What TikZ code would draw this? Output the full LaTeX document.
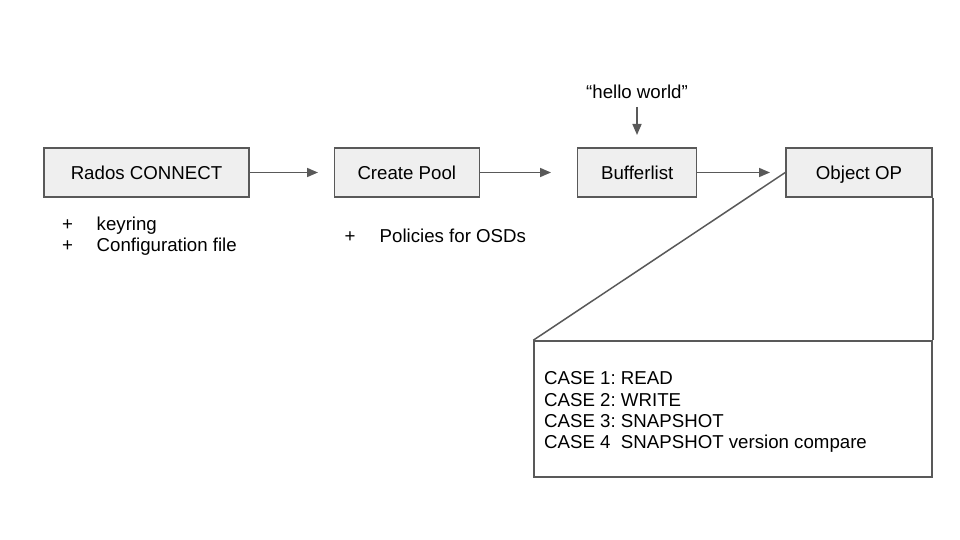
\documentclass[tikz,border=0pt]{standalone}
\usepackage{fontspec}
\setmainfont{Liberation Sans}
\usetikzlibrary{arrows.meta}
\definecolor{boxfill}{HTML}{EFEFEF}
\definecolor{edge}{HTML}{595959}
\begin{document}
\frenchspacing
\begin{tikzpicture}[x=1pt,y=-1pt,
  every node/.style={font=\fontsize{18.67}{21.33}\selectfont, text=black},
  stepbox/.style={draw=edge, line width=1.5pt, fill=boxfill, minimum height=49pt,
    text height=13.4pt, text depth=0pt, inner sep=0pt},
  conn/.style={draw=edge, line width=1.6pt, -{Triangle[length=11pt,width=9pt]}},
  plain/.style={draw=edge, line width=1.5pt},
  txt/.style={anchor=base west, inner sep=0pt}]
\useasboundingbox (0,0) rectangle (960,540);
\node[stepbox, minimum width=205pt] (rc) at (146.5,172.5) {Rados CONNECT};
\node[stepbox, minimum width=145pt] (cp) at (406.8,172.5) {Create Pool};
\node[stepbox, minimum width=119pt] (bl) at (637.2,172.5) {Bufferlist};
\node[stepbox, minimum width=146pt] (op) at (859,172.5) {Object OP};
\node[anchor=base, inner sep=0pt] (hw) at (637,99) {“hello world”};
\coordinate (hwstart) at (637,107);
\coordinate (hwend) at (637,135);
\coordinate (rcend) at (318,172.5);
\coordinate (cpend) at (551,172.5);
\coordinate (blend) at (770,172.5);
\draw[conn] (hwstart) -- (hwend);
\draw[conn] (rc.east) -- (rcend);
\draw[conn] (cp.east) -- (cpend);
\draw[conn] (bl.east) -- (blend);
\node[txt] (p1) at (62,230) {+};
\node[txt] (t1) at (96.5,230) {keyring};
\node[txt] (p2) at (62,251) {+};
\node[txt] (t2) at (96.5,251) {Configuration file};
\node[txt] (p3) at (344.5,242) {+};
\node[txt] (t3) at (379.5,242) {Policies for OSDs};
\node[draw=edge, line width=1.5pt, fill=white, minimum width=398pt, minimum height=136pt,
  inner sep=0pt] (ops) at (733,409) {};
\node[anchor=north west, inner sep=0pt, align=left] (opstext) at (544,371.6)
  {CASE 1: READ\\CASE 2: WRITE\\CASE 3: SNAPSHOT\\CASE 4\ \ SNAPSHOT version compare};
\draw[plain] (op.west) -- (ops.north west);
\draw[plain] (op.south east) -- (ops.north east);
\end{tikzpicture}
\end{document}
